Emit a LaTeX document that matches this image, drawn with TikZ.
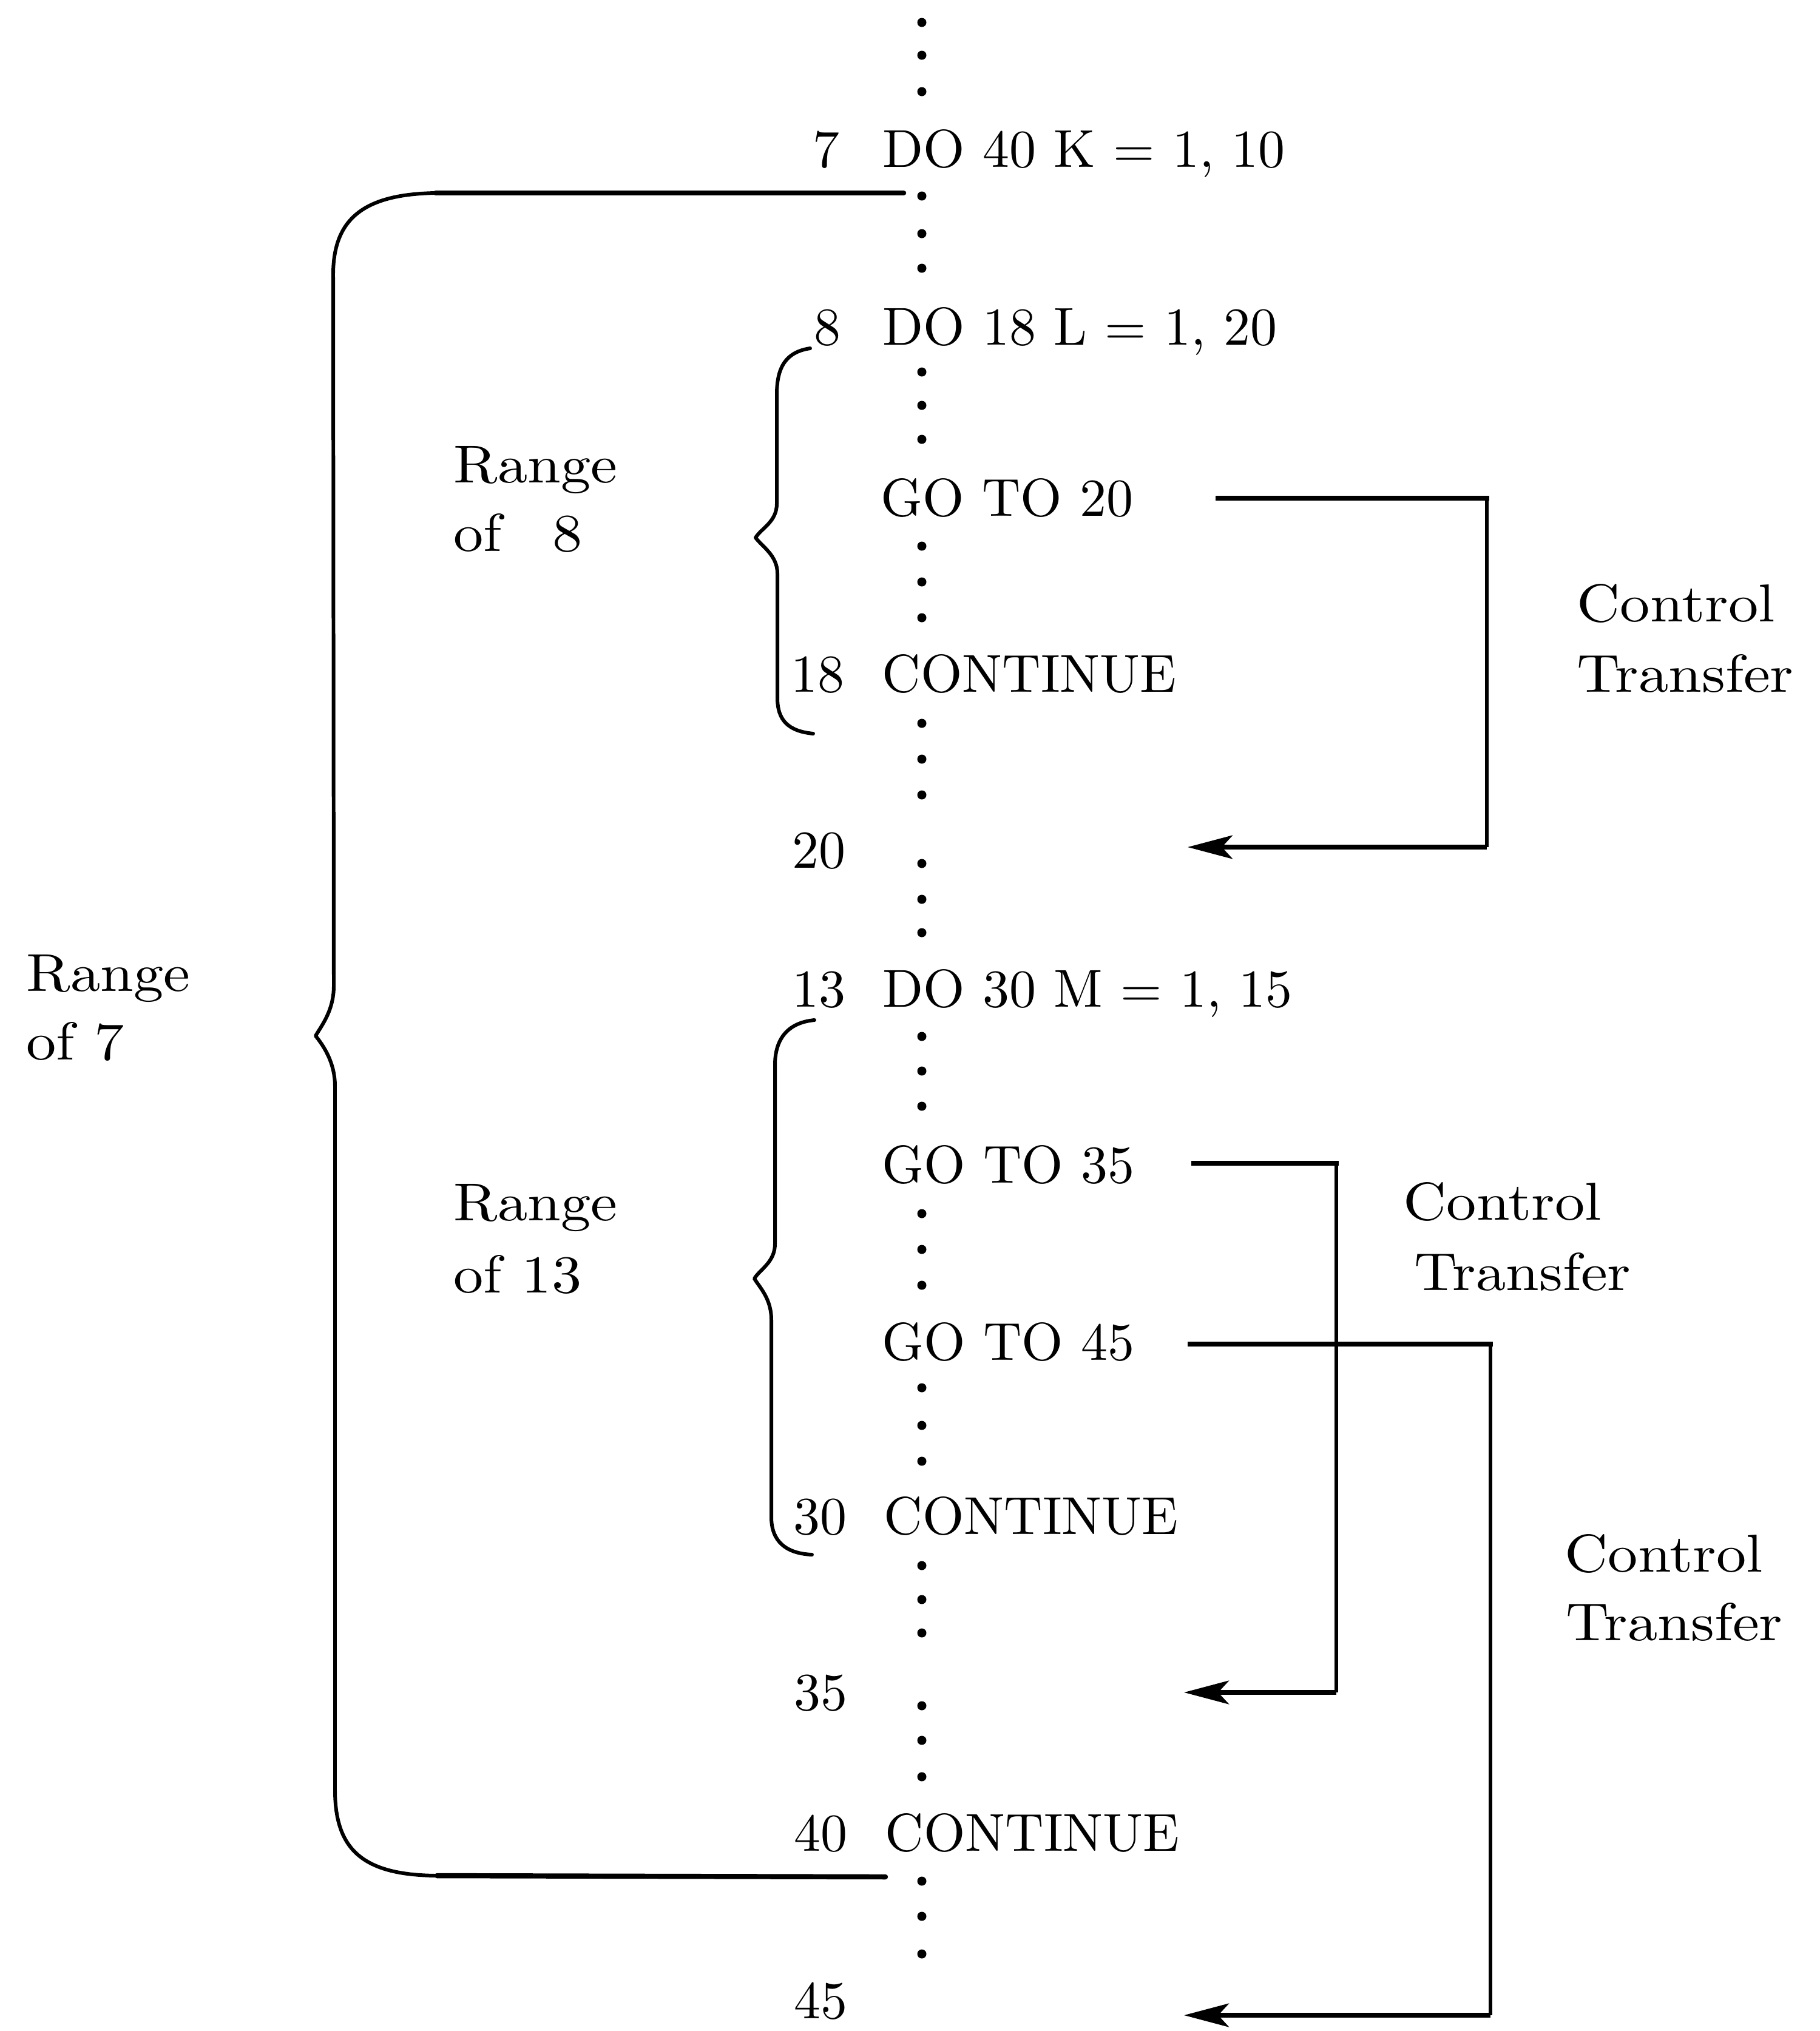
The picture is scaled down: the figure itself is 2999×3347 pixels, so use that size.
\documentclass[tikz,border=0pt]{standalone}
\usepackage{graphicx}
\usetikzlibrary{arrows.meta}
\newcommand\ctxt[1]{\scalebox{2.5}{\fontsize{10}{12}\selectfont #1}}
\newcommand\ltxt[1]{\scalebox{2.8}[2.5]{\fontsize{10}{12}\selectfont #1}}
\tikzset{
  code/.style={anchor=base west, inner sep=0pt},
  num/.style={anchor=base east, inner sep=0pt},
  lbl/.style={anchor=base west, inner sep=0pt},
  brace/.style={line width=1.7pt, line cap=round, line join=round},
  bracearm/.style={line width=2.4pt, line cap=round},
  ctlh/.style={line width=2.2pt, line cap=rect},
  ctlv/.style={line width=1.5pt},
  ctlarrow/.style={line width=2.2pt, -{Stealth[length=21pt,width=11pt,inset=5pt]}},
}
\begin{document}
\begin{tikzpicture}[x=0.01cm, y=-0.01cm]
\useasboundingbox (0,0) rectangle (2999,3347);
\fill[white] (0,0) rectangle (2999,3347);

% dotted column
\foreach \yy in {37,91,151, 323,385,442, 613,668,724, 900,959,1018,
                 1192,1251,1310, 1423,1482,1537, 1708,1765,1823,
                 2000,2059,2118, 2287,2349,2408, 2580,2636,2691,
                 2811,2868,2928, 3100,3158,3220}
  \fill (1519,\yy) circle[radius=0.075cm];

% statement numbers
\node[num] (n7)  at (1384,275)  {\ctxt{7}};
\node[num] (n8)  at (1386,568)  {\ctxt{8}};
\node[num] (n18) at (1392,1140) {\ctxt{18}};
\node[num] (n20) at (1394,1430) {\ctxt{20}};
\node[num] (n13) at (1394,1659) {\ctxt{13}};
\node[num] (n30) at (1396,2528) {\ctxt{30}};
\node[num] (n35) at (1397,2818) {\ctxt{35}};
\node[num] (n40) at (1397,3050) {\ctxt{40}};
\node[num] (n45) at (1397,3326) {\ctxt{45}};

% statements
\node[code] (s7)   at (1454,275)  {\ctxt{DO 40 K = 1, 10}};
\node[code] (s8)   at (1454,568)  {\ctxt{DO 18 L = 1, 20}};
\node[code] (g20)  at (1451,850)  {\ctxt{GO TO 20}};
\node[code] (s18)  at (1453,1140) {\ctxt{CONTINUE}};
\node[code] (s13)  at (1454,1659) {\ctxt{DO 30 M = 1, 15}};
\node[code] (g35)  at (1453,1949) {\ctxt{GO TO 35}};
\node[code] (g45)  at (1453,2241) {\ctxt{GO TO 45}};
\node[code] (s30)  at (1456,2528) {\ctxt{CONTINUE}};
\node[code] (s40)  at (1458,3050) {\ctxt{CONTINUE}};

% range labels
\node[lbl] (r7a)  at (43,1633)  {\ltxt{Range}};
\node[lbl] (r7b)  at (43,1746)  {\ltxt{of 7}};
\node[lbl] (r8a)  at (747,795)  {\ltxt{Range}};
\node[lbl] (r8b)  at (747,908)  {\ltxt{of\hspace{0.85em}8}};
\node[lbl] (r13a) at (747,2011) {\ltxt{Range}};
\node[lbl] (r13b) at (747,2130) {\ltxt{of 13}};

% control transfer labels
\node[lbl] (c1a) at (2598,1024) {\ltxt{Control}};
\node[lbl] (c1b) at (2598,1140) {\ltxt{Transfer}};
\node[lbl] (c2a) at (2312,2010) {\ltxt{Control}};
\node[lbl] (c2b) at (2330,2126) {\ltxt{Transfer}};
\node[lbl] (c3a) at (2578,2590) {\ltxt{Control}};
\node[lbl] (c3b) at (2580,2703) {\ltxt{Transfer}};

% range of 7 brace
\draw[bracearm] (1489,318) -- (718,318);
\draw[brace] (718,318) .. controls (600,320) and (550,360) .. (549,450)
  -- (550,1625) .. controls (550,1665) and (530,1690) .. (520,1707)
  .. controls (532,1722) and (552,1750) .. (552,1790)
  -- (552,2950) .. controls (552,3050) and (600,3090) .. (720,3091);
\draw[bracearm] (720,3091) -- (1459,3093);

% range of 8 brace
\draw[brace] (1335,574) .. controls (1295,580) and (1280,605) .. (1280,650)
  -- (1280,830) .. controls (1280,860) and (1255,870) .. (1245,886)
  .. controls (1255,900) and (1281,915) .. (1281,945)
  -- (1281,1150) .. controls (1281,1188) and (1300,1205) .. (1340,1209);

% range of 13 brace
\draw[brace] (1342,1681) .. controls (1300,1685) and (1277,1710) .. (1277,1755)
  -- (1277,2050) .. controls (1277,2080) and (1252,2092) .. (1243,2107)
  .. controls (1252,2122) and (1271,2140) .. (1271,2175)
  -- (1271,2500) .. controls (1271,2540) and (1295,2560) .. (1338,2562);

% control transfer connectors
\coordinate (a20s) at (2007,821);
\coordinate (a20c) at (2450,821);
\coordinate (a20d) at (2450,1396);
\coordinate (a20t) at (1957,1396);
\draw[ctlh] (a20s) -- (a20c);
\draw[ctlv] (a20c) -- (a20d);
\draw[ctlarrow] (a20d) -- (a20t);

\coordinate (a35s) at (1967,1917);
\coordinate (a35c) at (2202,1917);
\coordinate (a35d) at (2202,2789);
\coordinate (a35t) at (1951,2789);
\draw[ctlh] (a35s) -- (a35c);
\draw[ctlv] (a35c) -- (a35d);
\draw[ctlarrow] (a35d) -- (a35t);

\coordinate (a45s) at (1961,2215);
\coordinate (a45c) at (2456,2215);
\coordinate (a45d) at (2456,3321);
\coordinate (a45t) at (1951,3321);
\draw[ctlh] (a45s) -- (a45c);
\draw[ctlv] (a45c) -- (a45d);
\draw[ctlarrow] (a45d) -- (a45t);
\end{tikzpicture}
\end{document}
